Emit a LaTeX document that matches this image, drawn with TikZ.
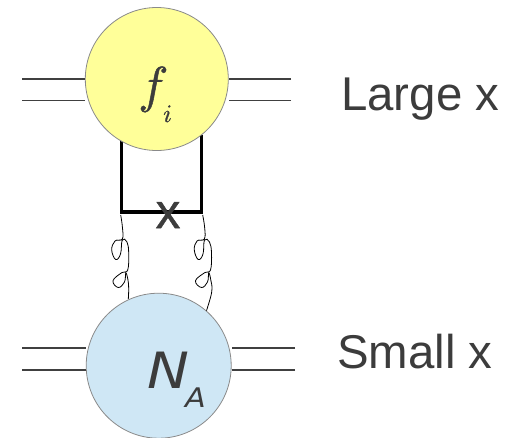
\documentclass[tikz,border=0pt]{standalone}
\usepackage{fontspec}
\setmainfont{Liberation Sans}
\newfontfamily\handfont[FakeStretch=1.12]{DejaVu Sans}
\newfontfamily\crossfont[FakeBold=1]{Liberation Sans}
\usepackage{unicode-math}
\setmathfont[FakeBold=0.9]{Latin Modern Math}
\definecolor{txt}{HTML}{3C3C3C}
\definecolor{yel}{HTML}{FFFF99}
\definecolor{blu}{HTML}{CFE7F5}
\definecolor{rim}{HTML}{8A8A8A}
\tikzset{
  blob/.style={circle,draw=rim,line width=0.8pt,minimum size=#1,inner sep=0pt},
  ext/.style={draw=black!75,line width=1.1pt},
  boxline/.style={draw=black,line width=3.3pt,line cap=butt,line join=miter},
  gluon/.style={draw=black,line width=0.8pt,smooth,tension=0.7},
  lab/.style={text=txt,inner sep=0pt,anchor=base west,font=\fontsize{47.4}{50}\selectfont},
  sym/.style={text=txt,inner sep=0pt,anchor=base west},
}
\begin{document}
\begin{tikzpicture}[x=1pt,y=-1pt]
\useasboundingbox (0,0) rectangle (513,437);
% positions
\coordinate (tl) at (121.5,135);
\coordinate (tr) at (201.5,135);
\coordinate (bl) at (121.5,212);
\coordinate (br) at (201.5,212);
\coordinate (la) at (22,79);
\coordinate (lb) at (22,100.5);
\coordinate (ra) at (291,79);
\coordinate (rb) at (291,100.5);
\coordinate (na) at (22,348);
\coordinate (nb) at (22,370);
\coordinate (ma) at (295,348);
\coordinate (mb) at (295,370);
% box
\draw[boxline] (tl) -- (bl) -- (br) -- (tr);
% gluons
\draw[gluon] plot coordinates {(120.7,215) (122.5,228) (122.3,239) (115,241) (111.7,250) (115.7,259.5) (120.5,254) (122.3,240) (127,242) (128.7,253) (127.7,270) (122,272.5) (113,280.7) (118.3,287.5) (124.5,282) (125.8,273) (128,280) (128.7,289) (128.3,299)};
\draw[gluon] plot coordinates {(202.7,215) (204.7,228) (204.3,239) (197,241) (194.3,250) (198.3,259.5) (203,254) (204.5,240) (209.5,242) (211.5,253) (210.5,270) (205,272.5) (195.5,280.7) (201.5,287.5) (207.5,282) (208.7,273) (210.8,280) (211.7,292) (206,312)};
% blobs
\node[blob=143pt,fill=yel] (fi) at (156.8,79) {};
\node[blob=145pt,fill=blu] (na0) at (158.7,365.7) {};
% external lines
\draw[ext] (la) -- (la -| fi.west);
\draw[ext] (lb) -- (lb -| fi.west);
\draw[ext] (ra) -- (ra -| fi.east);
\draw[ext] (rb) -- (rb -| fi.east);
\draw[ext] (na) -- (na -| na0.west);
\draw[ext] (nb) -- (nb -| na0.west);
\draw[ext] (ma) -- (ma -| na0.east);
\draw[ext] (mb) -- (mb -| na0.east);
% labels
\node[sym,scale=1.15,font=\fontsize{44}{48}\selectfont] (flab) at (138,102) {$f$};
\node[sym,scale=1.1,font=\fontsize{23}{26}\selectfont] (ilab) at (163,122) {$i$};
\node[sym,font=\fontsize{50}{52}\selectfont\handfont\itshape] (nlab) at (147,388) {N};
\node[sym,font=\fontsize{27}{30}\selectfont\handfont\itshape] (alab) at (185,407) {A};
\node[text=txt,inner sep=0pt,anchor=base,font=\fontsize{49}{50}\selectfont\crossfont] (xlab) at (168,228) {x};
\node[lab] (large) at (341,110) {Large x};
\node[lab] (small) at (337,368) {Small x};
\end{tikzpicture}
\end{document}
